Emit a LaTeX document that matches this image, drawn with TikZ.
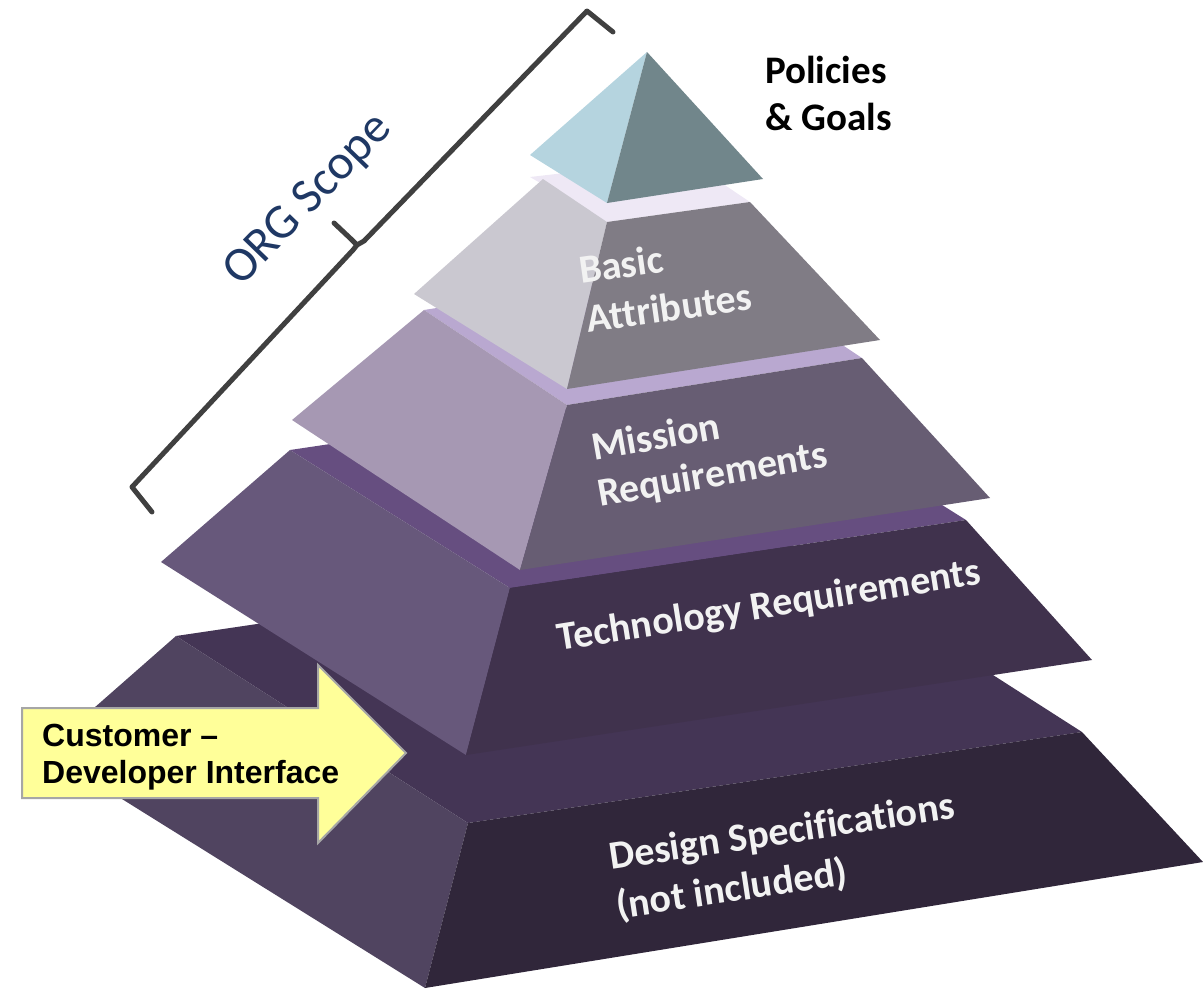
\documentclass[tikz,border=0pt]{standalone}
\usepackage{fontspec}
\newfontfamily\carlito[Ligatures={NoCommon}]{Carlito}
\newfontfamily\arialfont{Liberation Sans}
\definecolor{apexL}{HTML}{B5D4DF}
\definecolor{apexR}{HTML}{71868B}
\definecolor{baT}{HTML}{EEE8F5}
\definecolor{baL}{HTML}{CAC8D0}
\definecolor{baR}{HTML}{807C85}
\definecolor{miT}{HTML}{B9A8D0}
\definecolor{miL}{HTML}{A698B3}
\definecolor{miR}{HTML}{675D73}
\definecolor{teT}{HTML}{664E80}
\definecolor{teL}{HTML}{67587B}
\definecolor{teR}{HTML}{40324D}
\definecolor{deT}{HTML}{443555}
\definecolor{deL}{HTML}{504460}
\definecolor{deR}{HTML}{30263A}
\definecolor{labelwhite}{HTML}{F2F2F2}
\definecolor{orgblue}{HTML}{1F3864}
\definecolor{bracegray}{HTML}{404040}
\definecolor{arrowfill}{HTML}{FFFF99}
\definecolor{arrowline}{HTML}{A6A6A6}
\tikzset{
  lbl/.style={anchor=base west, inner sep=0pt, text=labelwhite,
    font=\carlito\bfseries\fontsize{40}{48}\selectfont},
  blacklbl/.style={anchor=base west, inner sep=0pt, text=black,
    font=\carlito\bfseries\fontsize{39}{47}\selectfont},
  arrowlbl/.style={anchor=base west, inner sep=0pt, text=black,
    font=\arialfont\bfseries\fontsize{32}{38}\selectfont},
  bracestroke/.style={draw=bracegray, line width=5pt, line join=round, line cap=round},
}
\begin{document}
\begin{tikzpicture}[x=1pt,y=-1pt]
\useasboundingbox (0,0) rectangle (1203,991);

% Layer 5: Design Specifications
\fill[deT] (176,636) -- (468,823) -- (1082,732) -- (790,545) -- cycle;
\fill[deL] (176,636) -- (45,751) -- (425,988) -- (468,823) -- cycle;
\fill[deR] (468,823) -- (1082,732) -- (1203,862) -- (425,988) -- cycle;

% Layer 4: Technology Requirements
\fill[teT] (290,450) -- (510,588) -- (966,520) -- (746,382) -- cycle;
\fill[teL] (290,450) -- (161,562) -- (466,755) -- (510,588) -- cycle;
\fill[teR] (510,588) -- (966,520) -- (1092,660) -- (466,755) -- cycle;

% Layer 3: Mission Requirements
\fill[miT] (424,310) -- (567,405) -- (862,358) -- (719,263) -- cycle;
\fill[miL] (424,310) -- (292,420) -- (520,570) -- (567,405) -- cycle;
\fill[miR] (567,405) -- (862,358) -- (990,498) -- (520,570) -- cycle;

% Layer 2: Basic Attributes
\fill[baT] (530,177) -- (607,222) -- (750,202) -- (686,159) -- cycle;
\fill[baL] (543,179) -- (414,294) -- (567,389) -- (607,222) -- cycle;
\fill[baR] (607,222) -- (750,202) -- (880,340) -- (567,389) -- cycle;

% Layer 1: apex
\fill[apexL] (530,155) -- (647,52) -- (607,203) -- cycle;
\fill[apexR] (647,52) -- (763,179) -- (607,203) -- cycle;

% Labels
\node[lbl, rotate=8] (basic1) at (581,284) {Basic};
\node[lbl, rotate=8] (basic2) at (588,333) {Attributes};
\node[lbl, rotate=10] (mis1) at (594,461) {Mission};
\node[lbl, rotate=10] (mis2) at (600,507) {Requirements};
\node[lbl, rotate=9] (tech) at (559,651) {Technology Requirements};
\node[lbl, rotate=8.5] (des1) at (611,870) {Design Specifications};
\node[lbl, rotate=8.5] (des2) at (618,919) {(not included)};
\node[blacklbl] (pol1) at (765,83) {Policies};
\node[blacklbl] (pol2) at (765,130) {\& Goals};

% ORG Scope bracket
\draw[bracestroke] (152,512) -- (132,487) -- (353,250) -- (357,245) -- (364,241) -- (587,11) -- (613,32);
\draw[bracestroke] (334,223) -- (351,239) -- (357,245);
\node[anchor=base west, inner sep=0pt, rotate=46, text=orgblue,
  font=\carlito\fontsize{49}{58}\selectfont] (org) at (241,288) {ORG Scope};

% Customer - Developer Interface arrow
\draw[fill=arrowfill, draw=arrowline, line width=2pt, line join=miter]
  (22,708) -- (318,708) -- (318,665) -- (406,753) -- (318,843) -- (318,798) -- (22,798) -- cycle;
\node[arrowlbl] (cust1) at (42,746) {Customer –};
\node[arrowlbl] (cust2) at (42,783) {Developer Interface};
\end{tikzpicture}
\end{document}
